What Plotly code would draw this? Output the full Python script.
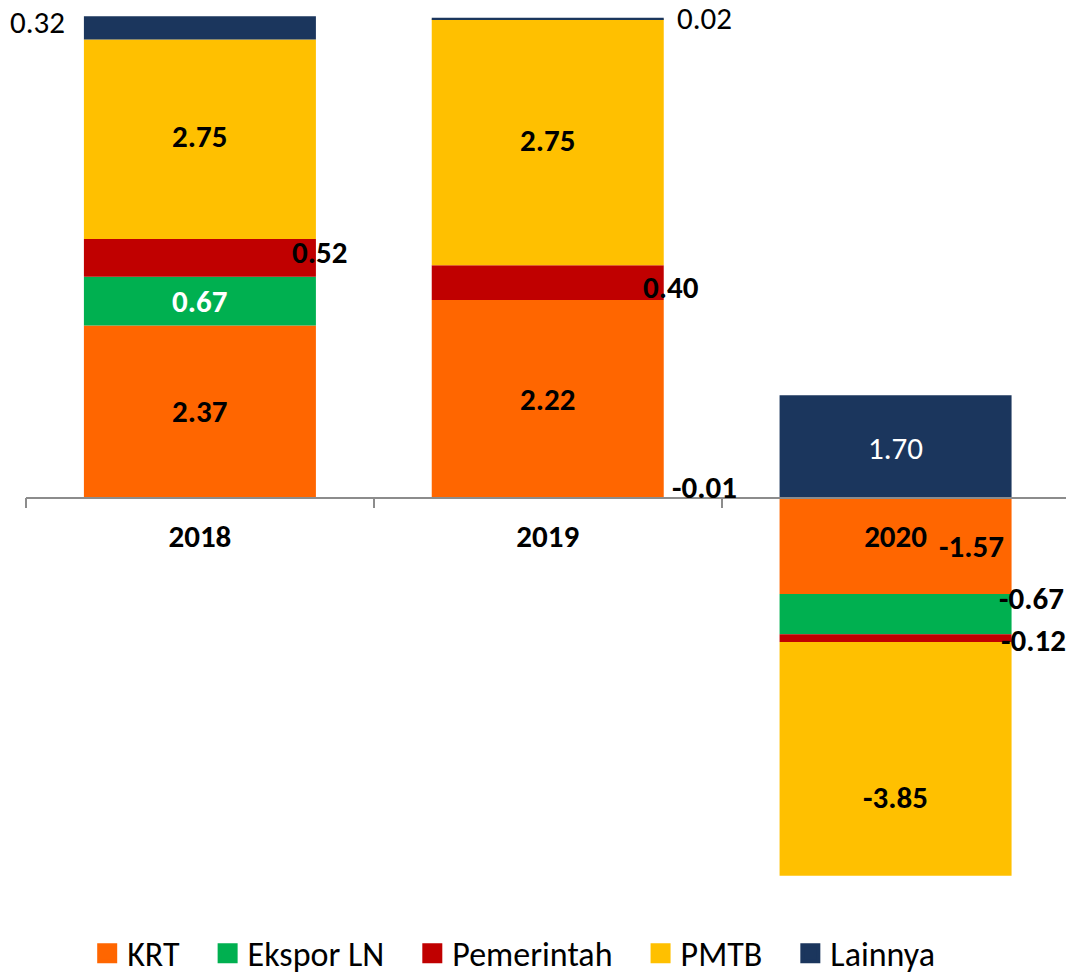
import plotly.graph_objects as go

# ---------------- data ----------------
years = ["2018", "2019", "2020"]
series_names = ["KRT", "Ekspor LN", "Pemerintah", "PMTB", "Lainnya"]
colors = ["#FF6600", "#00B050", "#C00000", "#FFC000", "#1B365D"]

# values printed on the chart
krt_label = [2.37, 2.22, -1.57]
ekspor_label = [0.67, -0.01, -0.67]
pemerintah_label = [0.52, 0.40, -0.12]
pmtb_label = [2.75, 2.75, -3.85]
lainnya_label = [0.32, 0.02, 1.70]

# bar heights as drawn in the picture
krt_height = [2.37, 2.72, -1.33]
ekspor_height = [0.67, -0.01, -0.555]
pemerintah_height = [0.52, 0.48, -0.106]
pmtb_height = [2.75, 3.39, -3.22]
lainnya_height = [0.32, 0.02, 1.41]

labels = [krt_label, ekspor_label, pemerintah_label, pmtb_label, lainnya_label]
heights = [krt_height, ekspor_height, pemerintah_height, pmtb_height, lainnya_height]

# label styling: (mode, xshift, yshift, color, bold)
label_style = [
    [("center", 0, 0, "black", True), ("center", 0, 0, "black", True), ("right_in", -6, 0, "black", True)],
    [("center", 0, 0, "white", True), ("right_out", 6, 11, "black", True), ("right_out", -15, 16, "black", True)],
    [("right_edge", 4, 6, "black", True), ("right_edge", 7, -4, "black", True), ("right_out", -13, -2, "black", True)],
    [("center", 0, 3, "black", True), ("center", 0, 2, "black", True), ("center", 0, -38, "black", True)],
    [("left_out", -17, 6, "black", False), ("right_out", 11, 0, "black", False), ("center", 0, -2, "white", False)],
]

FONT = "Carlito, Calibri, 'Open Sans', sans-serif"
LABEL_SIZE = 31
BAR_W = 0.667
Y_MIN, Y_MAX = -6.577, 6.853

fig = go.Figure()
for name, col, h in zip(series_names, colors, heights):
    fig.add_trace(go.Bar(x=years, y=h, name=name, marker=dict(color=col, line=dict(width=0)),
                         width=BAR_W, showlegend=False, hoverinfo="skip"))
# legend entries
for name, col in zip(series_names, colors):
    fig.add_trace(go.Scatter(x=[None], y=[None], mode="markers", name=name + "\u00a0\u00a0\u00a0",
                             marker=dict(symbol="square", size=16, color=col, line=dict(width=4, color=col))))

# annotations for labels, computed from stacked positions
annotations = []
pos_base = [0.0] * len(years)
neg_base = [0.0] * len(years)
for s, (h_list, l_list) in enumerate(zip(heights, labels)):
    for i, (h, lab) in enumerate(zip(h_list, l_list)):
        if h >= 0:
            y0, y1 = pos_base[i], pos_base[i] + h
            pos_base[i] = y1
        else:
            y0, y1 = neg_base[i], neg_base[i] + h
            neg_base[i] = y1
        mode, xs, ys, c, bold = label_style[s][i]
        yc = (y0 + y1) / 2
        if mode == "center":
            x, xa = i, "center"
        elif mode == "left_out":
            x, xa = i - BAR_W / 2, "right"
        elif mode == "right_out":
            x, xa = i + BAR_W / 2, "left"
        elif mode == "right_in":
            x, xa = i + BAR_W / 2, "right"
        else:
            x, xa = i + BAR_W / 2, "center"
        annotations.append(dict(x=x, y=yc, xref="x", yref="y", text=f"{lab:.2f}", showarrow=False,
                                xanchor=xa, yanchor="middle", xshift=xs, yshift=ys,
                                font=dict(family=FONT, size=LABEL_SIZE, color=c,
                                          weight="bold" if bold else "normal")))

fig.update_layout(
    width=1066, height=975,
    margin=dict(l=26, r=0, t=0, b=0, autoexpand=False),
    paper_bgcolor="white", plot_bgcolor="white",
    barmode="relative",
    font=dict(family=FONT, size=LABEL_SIZE, color="black"),
    annotations=annotations,
    legend=dict(orientation="h", x=0.48, xanchor="center", y=0.022, yanchor="middle",
                font=dict(family=FONT, size=34, color="black"), itemclick=False,
                bgcolor="rgba(0,0,0,0)"),
    yaxis=dict(range=[Y_MIN, Y_MAX], visible=False),
    xaxis=dict(type="category", range=[-0.5, 2.49], anchor="free",
               position=(0 - Y_MIN) / (Y_MAX - Y_MIN),
               showline=True, linecolor="#8C8C8C", linewidth=1.5,
               ticks="outside", tickson="boundaries", ticklen=10, tickcolor="#8C8C8C", tickwidth=1.5,
               ticklabelstandoff=12,
               tickfont=dict(family=FONT, size=LABEL_SIZE, color="black", weight="bold"),
               showgrid=False, zeroline=False),
)

fig.write_html("out.html", config={"displayModeBar": False},
               post_script="document.body.style.margin='0';document.body.style.overflow='hidden';")
